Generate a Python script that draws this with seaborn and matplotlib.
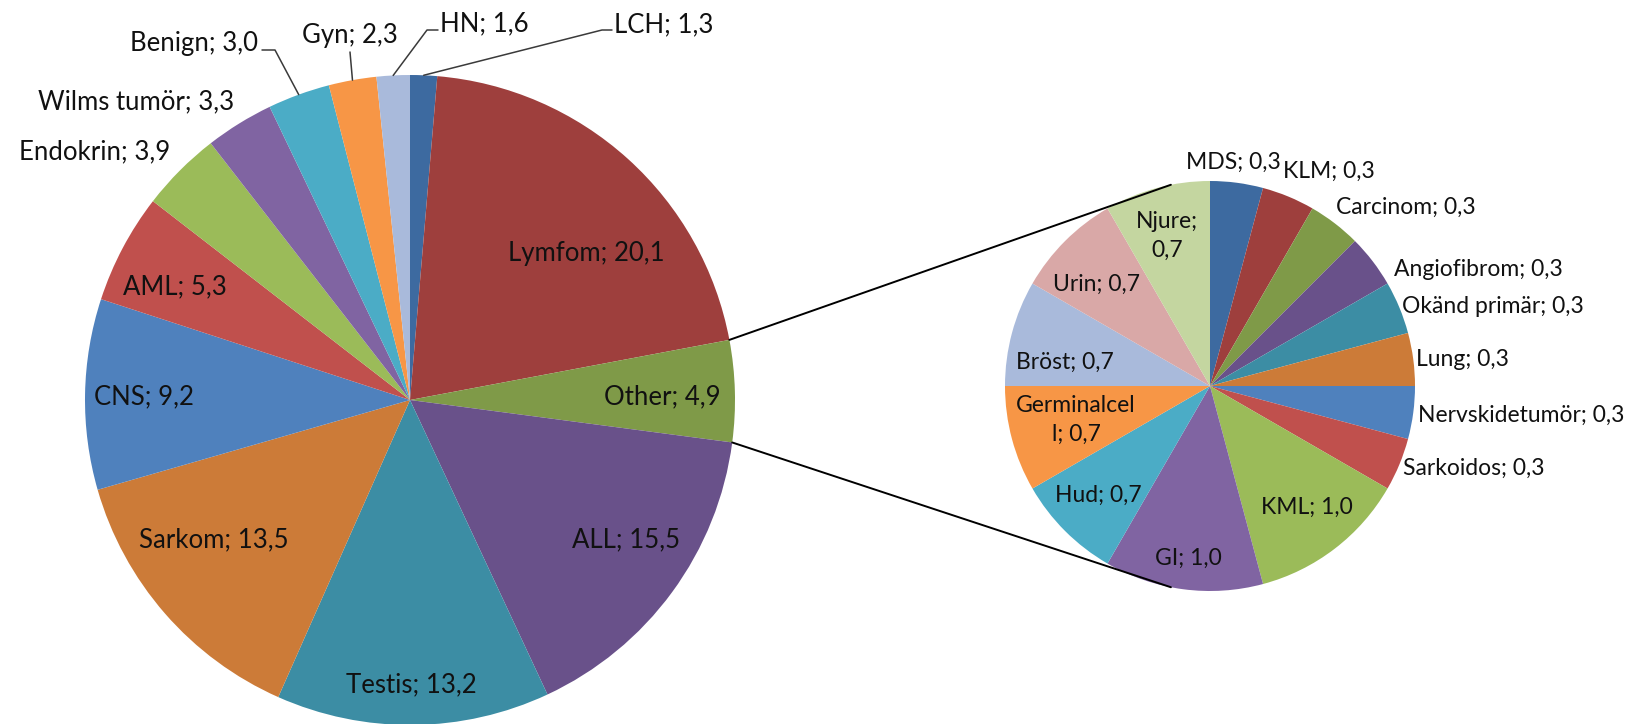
import numpy as np
import matplotlib.pyplot as plt
import seaborn as sns

# huvudcirkel (andel i %)
main_labels = ["LCH", "Lymfom", "Other", "ALL", "Testis", "Sarkom", "CNS",
               "AML", "Endokrin", "Wilms tumör", "Benign", "Gyn", "HN"]
main_values = [1.3, 20.1, 4.9, 15.5, 13.2, 13.5, 9.2, 5.3, 3.9, 3.3, 3.0, 2.3, 1.6]

# "Other" uppdelad (avrundade etiketter, ~1/2/3 patienter)
other_labels = ["MDS", "KLM", "Carcinom", "Angiofibrom", "Okänd primär", "Lung",
                "Nervskidetumör", "Sarkoidos", "KML", "GI", "Hud", "Germinalcell",
                "Bröst", "Urin", "Njure"]
other_values = [0.33, 0.33, 0.33, 0.33, 0.33, 0.33, 0.33, 0.33,
                0.99, 0.99, 0.66, 0.66, 0.66, 0.66, 0.66]

main_colors = ["#3D6AA0", "#9E3F3D", "#7F9A48", "#69518A", "#3C8DA4", "#CC7B38",
               "#4F81BD", "#C0504D", "#9BBB59", "#8064A2", "#4BACC6", "#F79646", "#A9BADB"]
other_colors = ["#3D6AA0", "#9E3F3D", "#7F9A48", "#69518A", "#3C8DA4", "#CC7B38",
                "#4F81BD", "#C0504D", "#9BBB59", "#8064A2", "#4BACC6", "#F79646",
                "#A9BADB", "#D9A8A7", "#C4D6A0"]

sns.set_theme(style="white")
plt.rcParams['font.family'] = ['Lato', 'DejaVu Sans']

W, H = 1633, 724
def P(x, y):
    # pixelkoordinat (y nedåt) -> data (y uppåt)
    return x, H - y

fig = plt.figure(figsize=(W / 100, H / 100), dpi=100)
ax = fig.add_axes([0, 0, 1, 1])

c1, r1 = P(410, 400), 325
c2, r2 = P(1210, 386), 205

w1, _ = ax.pie(main_values, colors=main_colors, startangle=90, counterclock=False,
               center=c1, radius=r1, wedgeprops=dict(linewidth=0))
w2, _ = ax.pie(other_values, colors=other_colors, startangle=90, counterclock=False,
               center=c2, radius=r2, wedgeprops=dict(linewidth=0))

def fmt(v):
    return f"{v:.1f}".replace(".", ",")

def edge(w, frac=1.0):
    a = np.deg2rad((w.theta1 + w.theta2) / 2)
    return w.center[0] + w.r * frac * np.cos(a), w.center[1] + w.r * frac * np.sin(a)

# textplacering, huvudcirkel
main_pos = {
    "LCH": (614, 25, "left"), "HN": (440, 24, "left"), "Gyn": (350, 35, "center"),
    "Benign": (258, 43, "right"), "Wilms tumör": (234, 102, "right"),
    "Endokrin": (170, 152, "right"), "AML": (175, 287, "center"),
    "CNS": (144, 397, "center"), "Sarkom": (214, 540, "center"),
    "Testis": (411, 685, "center"), "ALL": (626, 540, "center"),
    "Other": (662, 397, "center"), "Lymfom": (586, 254, "center"),
}
leaders = {
    "LCH": [(602, 30), (612, 30)],
    "HN": [(427, 30), (438, 30)],
    "Gyn": [(350, 52)],
    "Benign": [(275, 50), (262, 50)],
}
for lab, val, w in zip(main_labels, main_values, w1):
    x, y, ha = main_pos[lab]
    ax.text(*P(x, y), f"{lab}; {fmt(val)}", ha=ha, va="center", fontsize=18.5, color="#111111")
    if lab in leaders:
        pts = [edge(w)] + [P(*p) for p in leaders[lab]]
        xs, ys = zip(*pts)
        ax.plot(xs, ys, color="#3a3a3a", lw=1.1)

# textplacering, delcirkel
other_pos = {
    "MDS": (1233, 162), "KLM": (1329, 171), "Carcinom": (1406, 207),
    "Angiofibrom": (1478, 270), "Okänd primär": (1493, 307), "Lung": (1462, 360),
    "Nervskidetumör": (1521, 415), "Sarkoidos": (1474, 468), "KML": (1307, 507),
    "GI": (1188, 558), "Hud": (1098, 495), "Germinalcell": (1076, 420),
    "Bröst": (1065, 362), "Urin": (1097, 284), "Njure": (1167, 236),
}
wrapped = {"Germinalcell": "Germinalcel\nl; {}", "Njure": "Njure;\n{}"}
for lab, val in zip(other_labels, other_values):
    x, y = other_pos[lab]
    txt = wrapped[lab].format(fmt(val)) if lab in wrapped else f"{lab}; {fmt(val)}"
    ax.text(*P(x, y), txt, ha="center", va="center", fontsize=16.5,
            color="#111111", linespacing=1.5)

# förbindelselinjer mellan "Other" och delcirkeln
wo = w1[main_labels.index("Other")]
for th, a2 in [(wo.theta2, 101), (wo.theta1, 259)]:
    p1 = (c1[0] + r1 * np.cos(np.deg2rad(th)), c1[1] + r1 * np.sin(np.deg2rad(th)))
    p2 = (c2[0] + r2 * np.cos(np.deg2rad(a2)), c2[1] + r2 * np.sin(np.deg2rad(a2)))
    ax.plot([p1[0], p2[0]], [p1[1], p2[1]], color="black", lw=1.4, zorder=3)

ax.set_xlim(0, W)
ax.set_ylim(0, H)
ax.set_aspect("equal")
ax.axis("off")

plt.savefig("out.png", dpi=100, facecolor="white")
